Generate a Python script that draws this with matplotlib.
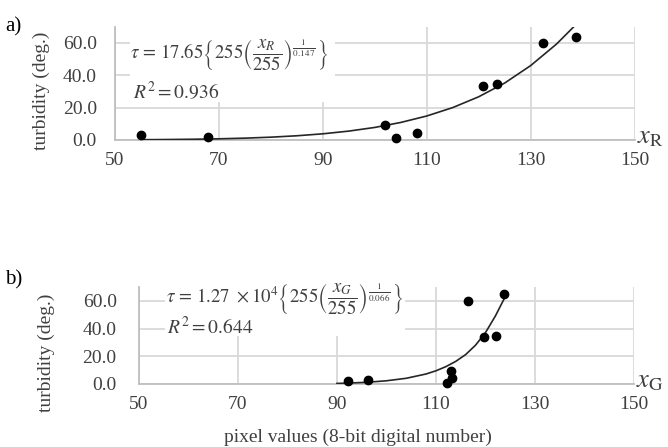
import matplotlib
matplotlib.use('Agg')
import matplotlib.pyplot as plt
from matplotlib.patches import Rectangle

plt.rcParams['font.family'] = ['Liberation Serif', 'DejaVu Serif']
plt.rcParams['mathtext.fontset'] = 'stix'

# panel a) red channel
xr = [55, 68, 102, 104, 108.2, 120.8, 123.6, 132.4, 138.8]
yr = [3, 2, 9.2, 1, 4.1, 33.4, 34.7, 59.7, 64]
xr_fit = [55, 60, 65, 70, 75, 80, 85, 90, 95, 100, 105, 110, 115, 120, 125, 130, 135, 138.5]
yr_fit = [0.13, 0.24, 0.41, 0.68, 1.09, 1.69, 2.56, 3.77, 5.45, 7.72, 10.8, 14.8,
          20.0, 26.7, 35.2, 46.0, 59.4, 70.7]

# panel b) green channel
xg = [92.2, 96.3, 112.2, 113, 113.2, 116.5, 119.7, 122.1, 123.7]
yg = [2.1, 2.9, 0.5, 9.5, 4, 60, 33.8, 34.8, 64.8]
xg_fit = [90, 92, 96, 100, 104, 108, 110, 112, 114, 116, 118, 120, 122, 124]
yg_fit = [0.4, 0.6, 1.2, 2.3, 4.1, 7.2, 9.5, 12.5, 16.3, 21.2, 28, 37, 49, 63]

xticks = [50, 70, 90, 110, 130, 150]
yticks = [0, 20, 40, 60]

grid_c = '#d9d9d9'
txt_c = '#404040'

fig = plt.figure(figsize=(6.68, 4.47), dpi=100)
ax1 = fig.add_axes([0.172, 0.687, 0.778, 0.253])
ax2 = fig.add_axes([0.208, 0.141, 0.741, 0.217])


def style(ax, ypad):
    ax.set_xlim(50, 150)
    ax.set_ylim(0, 70)
    ax.set_xticks(xticks)
    ax.set_yticks(yticks)
    ax.set_yticklabels(['%.1f' % v for v in yticks])
    ax.tick_params(length=0, labelsize=14, colors=txt_c)
    ax.tick_params(axis='x', pad=9)
    ax.tick_params(axis='y', pad=ypad)
    ax.grid(True, color=grid_c, lw=1.3, zorder=0)
    ax.set_axisbelow(True)
    for s in ['top', 'right']:
        ax.spines[s].set_visible(False)
    for s in ['left', 'bottom']:
        ax.spines[s].set_color('#bfbfbf')
        ax.spines[s].set_linewidth(1.3)
    ax.set_ylabel('turbidity (deg.)', fontsize=14, color=txt_c)


style(ax1, 13)
style(ax2, 16)
ax1.yaxis.set_label_coords(-0.125, 0.43)
ax2.yaxis.set_label_coords(-0.170, 0.32)

# white boxes behind equations
ax1.add_patch(Rectangle((0.029, 0.336), 0.394, 0.67, transform=ax1.transAxes,
                        facecolor='white', edgecolor='none', zorder=1, clip_on=False))
ax2.add_patch(Rectangle((0.053, 0.495), 0.484, 0.51, transform=ax2.transAxes,
                        facecolor='white', edgecolor='none', zorder=1, clip_on=False))

ax1.plot(xr_fit, yr_fit, color='#262626', lw=1.2, zorder=3)
ax1.plot(xr, yr, 'o', color='black', ms=6, zorder=4, clip_on=False)
ax2.plot(xg_fit, yg_fit, color='#262626', lw=1.2, zorder=3)
ax2.plot(xg, yg, 'o', color='black', ms=6, zorder=4, clip_on=False)

ax1.text(0.03, 0.75, r'$\tau\,=\,17.65\left\{255\left(\dfrac{x_R}{255}\right)^{\frac{1}{0.147}}\right\}$',
         transform=ax1.transAxes, fontsize=13.5, color=txt_c, va='center', ha='left', zorder=5)
ax1.text(0.035, 0.43, r'$R^2 = 0.936$', transform=ax1.transAxes, fontsize=14,
         color=txt_c, va='center', ha='left', zorder=5)
ax2.text(0.055, 0.875, r'$\tau\,=\,1.27\ \times 10^4\left\{255\left(\dfrac{x_G}{255}\right)^{\frac{1}{0.066}}\right\}$',
         transform=ax2.transAxes, fontsize=13.5, color=txt_c, va='center', ha='left', zorder=5)
ax2.text(0.057, 0.585, r'$R^2 = 0.644$', transform=ax2.transAxes, fontsize=14,
         color=txt_c, va='center', ha='left', zorder=5)

ax1.text(1.005, 0.02, r'$x_{\mathrm{R}}$', transform=ax1.transAxes, fontsize=19,
         color=txt_c, va='center', ha='left')
ax2.text(1.005, 0.02, r'$x_{\mathrm{G}}$', transform=ax2.transAxes, fontsize=19,
         color=txt_c, va='center', ha='left')

fig.text(0.008, 0.94, 'a)', fontsize=15, va='center', ha='left')
fig.text(0.008, 0.374, 'b)', fontsize=15, va='center', ha='left')
fig.text(0.536, 0.022, 'pixel values (8-bit digital number)', fontsize=14,
         color=txt_c, ha='center', va='center')

fig.savefig('out.png', dpi=100)
